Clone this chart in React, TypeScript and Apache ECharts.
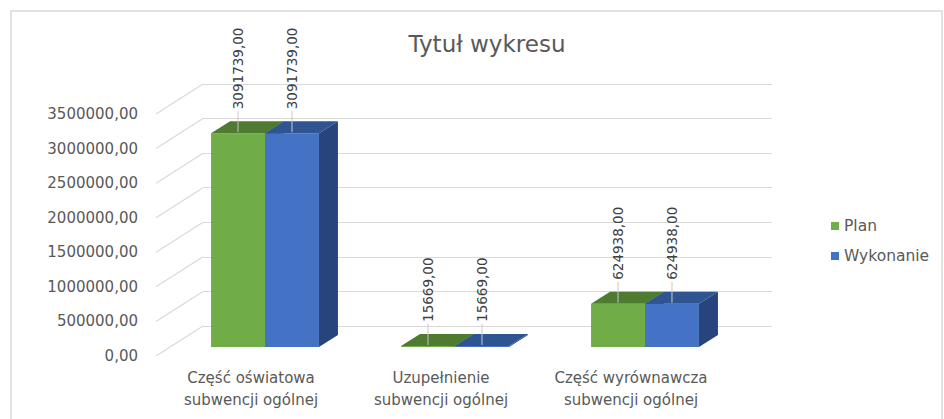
import React, { useEffect, useRef } from "react";
import * as echarts from "echarts";

const categories = [
  "Część oświatowa\nsubwencji ogólnej",
  "Uzupełnienie\nsubwencji ogólnej",
  "Część wyrównawcza\nsubwencji ogólnej",
];
const planValues = [3091739, 15669, 624938];
const wykonanieValues = [3091739, 15669, 624938];
const yTicks = [0, 500000, 1000000, 1500000, 2000000, 2500000, 3000000, 3500000];
const seriesNames = ["Plan", "Wykonanie"];

const FONT = "DejaVu Sans";
const TXT = "#595959";
const DX = 19;
const DY = -12;
const fmt = (v: number) => v.toFixed(2).replace(".", ",");

const palette = [
  { front: "#70ad47", top: "#4e7b30", side: "#3f6526" },
  { front: "#4472c4", top: "#2e5591", side: "#27457c" },
];

function makeBarSeries(si: number, values: number[]) {
  const col = palette[si];
  return {
    name: seriesNames[si],
    type: "custom",
    xAxisIndex: 1,
    yAxisIndex: 1,
    clip: false,
    z: 10 + si,
    itemStyle: { color: col.front },
    encode: { x: 0, y: 1 },
    data: values.map((v, i) => [i, v]),
    renderItem: (params: any, api: any) => {
      const idx = api.value(0);
      const v = api.value(1);
      const t = api.coord([idx, v]);
      const b = api.coord([idx, 0]);
      const band = api.size([1, 0])[0];
      const w = band * 0.284;
      const x0 = si === 0 ? t[0] - w : t[0];
      const yt = Math.min(t[1], b[1] - 1);
      const yb = b[1];
      const xc = x0 + w / 2;
      return {
        type: "group",
        children: [
          {
            type: "polygon",
            shape: {
              points: [
                [x0 + w, yt],
                [x0 + w + DX, yt + DY],
                [x0 + w + DX, yb + DY],
                [x0 + w, yb],
              ],
            },
            style: { fill: col.side },
          },
          {
            type: "rect",
            shape: { x: x0, y: yt, width: w, height: yb - yt },
            style: { fill: col.front },
          },
          {
            type: "polygon",
            shape: {
              points: [
                [x0, yt],
                [x0 + w, yt],
                [x0 + w + DX, yt + DY],
                [x0 + DX, yt + DY],
              ],
            },
            style: { fill: col.top },
          },
          {
            type: "line",
            shape: { x1: xc, y1: yt - 1, x2: xc, y2: yt - 22 },
            style: { stroke: "#c8c8c8", lineWidth: 1 },
          },
          {
            type: "text",
            x: xc,
            y: yt - 24,
            rotation: Math.PI / 2,
            style: {
              text: fmt(v),
              fill: "#404040",
              font: `13.5px "${FONT}"`,
              align: "left",
              verticalAlign: "middle",
            },
          },
        ],
      };
    },
  };
}

export default function App() {
  const ref = useRef<HTMLDivElement>(null);
  useEffect(() => {
    if (!ref.current) return;
    const chart = echarts.init(ref.current, null, { renderer: "svg" });
    const yBase = {
      type: "value",
      min: 0,
      max: 3500000,
      interval: 500000,
    };
    chart.setOption({
      animation: false,
      backgroundColor: "#ffffff",
      title: {
        text: "Tytuł wykresu",
        left: 482,
        top: 27,
        textAlign: "center",
        textStyle: { fontFamily: FONT, fontSize: 23, fontWeight: "normal", color: TXT },
      },
      legend: {
        orient: "vertical",
        left: 826,
        top: 213,
        itemWidth: 8,
        itemHeight: 8,
        itemGap: 14,
        icon: "rect",
        textStyle: { fontFamily: FONT, fontSize: 15.5, color: TXT, padding: [0, 0, 0, 0] },
        data: seriesNames,
      },
      graphic: [
        {
          type: "rect",
          shape: { x: 11, y: 11, width: 931, height: 430 },
          style: { fill: "none", stroke: "#d9d9d9", lineWidth: 1.5 },
          silent: true,
        },
      ],
      grid: [
        { left: 203, right: 172, top: 84, bottom: 93 },
        { left: 170, right: 204, top: 105, bottom: 72 },
        { left: 156, right: 218, top: 114, bottom: 63 },
      ],
      xAxis: [
        { gridIndex: 0, type: "value", min: 0, max: 1, show: false },
        { gridIndex: 1, type: "category", data: categories, show: false },
        {
          gridIndex: 2,
          type: "category",
          data: categories,
          axisLine: { show: false },
          axisTick: { show: false },
          axisLabel: {
            margin: 11,
            fontFamily: FONT,
            fontSize: 15,
            lineHeight: 22,
            color: TXT,
            interval: 0,
          },
        },
      ],
      yAxis: [
        {
          ...yBase,
          gridIndex: 0,
          axisLine: { show: false },
          axisTick: { show: false },
          axisLabel: { show: false },
          splitLine: { show: true, lineStyle: { color: "#d9d9d9", width: 1.2 } },
        },
        { ...yBase, gridIndex: 1, show: false },
        {
          ...yBase,
          gridIndex: 2,
          axisLine: { show: false },
          axisTick: { show: false },
          splitLine: { show: false },
          axisLabel: {
            margin: 18,
            fontFamily: FONT,
            fontSize: 15,
            color: TXT,
            formatter: (v: number) => fmt(v),
          },
        },
      ],
      series: [
        {
          type: "custom",
          xAxisIndex: 0,
          yAxisIndex: 0,
          clip: false,
          silent: true,
          z: 1,
          encode: { x: 0, y: 1 },
          data: yTicks.map((v) => [0, v]),
          renderItem: (params: any, api: any) => {
            const p = api.coord([0, api.value(1)]);
            return {
              type: "line",
              shape: { x1: p[0], y1: p[1], x2: p[0] - 47, y2: p[1] + 30 },
              style: { stroke: "#d9d9d9", lineWidth: 1.2 },
            };
          },
        },
        makeBarSeries(0, planValues),
        makeBarSeries(1, wykonanieValues),
      ],
    });
    return () => chart.dispose();
  }, []);
  return (
    <div
      ref={ref}
      style={{ position: "fixed", left: 0, top: 0, width: 944, height: 419 }}
    />
  );
}
